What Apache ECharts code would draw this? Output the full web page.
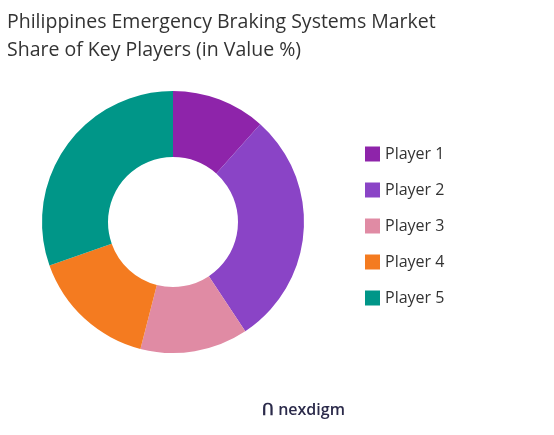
<!DOCTYPE html>
<html>
<head>
<meta charset="utf-8">
<script src="https://cdn.jsdelivr.net/npm/echarts@6/dist/echarts.min.js"></script>
<style>html,body{margin:0;padding:0;background:#fff}#chart1{width:554px;height:435px}</style>
</head>
<body>
<div id="chart1"></div>
<script>
var players = ['Player 1', 'Player 2', 'Player 3', 'Player 4', 'Player 5'];
var shares = [11.6, 29.1, 13.3, 15.6, 30.4];
var colors = ['#8E24AA', '#8A44C6', '#E08BA4', '#F47B20', '#009688'];

var ydata = [];
for (var i = 0; i < players.length; i++) {
    ydata.push({name: players[i], value: shares[i], itemStyle: {color: colors[i]}});
}

var myChart = echarts.init(document.getElementById('chart1'));
myChart.setOption({
    title: {
        text: 'Philippines Emergency Braking Systems Market\nShare of Key Players (in Value %)',
        left: 2,
        top: 3,
        textStyle: {fontFamily: 'Open Sans', fontSize: 19.5, fontWeight: 'normal', color: '#333', lineHeight: 28}
    },
    legend: {
        orient: 'vertical',
        left: 360,
        top: 141,
        itemWidth: 15,
        itemHeight: 15,
        itemGap: 20,
        icon: 'rect',
        textStyle: {fontFamily: 'Open Sans', fontSize: 16, color: '#333'},
        data: players
    },
    graphic: [{
        type: 'text',
        left: 262,
        top: 402,
        style: {text: 'ᑎ nexdigm', font: '600 16px "Open Sans"', fill: '#2b2a4a'}
    }],
    series: [{
        type: 'pie',
        radius: [65, 131],
        center: [173, 222],
        startAngle: 90,
        clockwise: true,
        label: {show: false},
        labelLine: {show: false},
        data: ydata
    }]
});
</script>
</body>
</html>
